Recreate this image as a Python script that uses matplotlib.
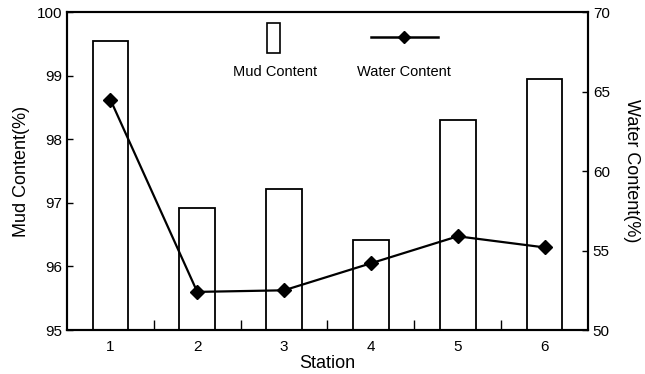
import numpy as np
import matplotlib
matplotlib.use('Agg')
import matplotlib.pyplot as plt
from matplotlib.patches import Rectangle
from matplotlib.lines import Line2D

plt.rcParams['font.family'] = ['Liberation Sans', 'DejaVu Sans']

# Station data
stations = [1, 2, 3, 4, 5, 6]
mud_content = [99.55, 96.92, 97.22, 96.42, 98.30, 98.95]
water_content = [64.5, 52.4, 52.5, 54.2, 55.9, 55.2]

fig = plt.figure(figsize=(6.45, 3.74), dpi=100)
ax = fig.add_axes([0.1039, 0.1176, 0.8077, 0.8495])

# Mud content as open bars on the left axis
ax.bar(stations, mud_content, width=0.41, bottom=0, facecolor='white',
       edgecolor='black', linewidth=1.3, zorder=2)
ax.set_ylim(95, 100)
ax.set_xlim(0.5, 6.5)
ax.set_yticks([95, 96, 97, 98, 99, 100])
ax.set_xticks(stations)
ax.set_xticks([1.5, 2.5, 3.5, 4.5, 5.5], minor=True)
ax.tick_params(axis='x', which='major', length=0, labelsize=11, pad=7)
ax.tick_params(axis='x', which='minor', direction='in', length=7, width=1)
ax.tick_params(axis='y', direction='in', length=4, width=1, labelsize=11)
ax.set_xlabel('Station', fontsize=13, labelpad=1)
ax.set_ylabel('Mud Content(%)', fontsize=13, labelpad=5)
for s in ax.spines.values():
    s.set_linewidth(1.5)

# Water content line on the right axis
ax2 = ax.twinx()
ax2.plot(stations, water_content, color='black', linewidth=1.6,
         marker='D', markersize=7, markerfacecolor='black', zorder=3)
ax2.set_ylim(50, 70)
ax2.set_yticks([50, 55, 60, 65, 70])
ax2.tick_params(axis='y', direction='in', length=4, width=1, labelsize=11)
ax2.set_ylabel('Water Content(%)', fontsize=13, rotation=270, labelpad=22)
for s in ax2.spines.values():
    s.set_linewidth(1.5)

# Legend keys placed in the upper middle of the plot
ax2.add_patch(Rectangle((0.384, 0.872), 0.025, 0.094, transform=ax2.transAxes,
                        facecolor='white', edgecolor='black', linewidth=1.2))
ax2.text(0.399, 0.812, 'Mud Content', transform=ax2.transAxes,
         ha='center', va='center', fontsize=10.5)
ax2.add_line(Line2D([0.583, 0.712], [0.922, 0.922], transform=ax2.transAxes,
                    color='black', linewidth=1.8))
ax2.add_line(Line2D([0.647], [0.922], transform=ax2.transAxes, color='black',
                    marker='D', markersize=6))
ax2.text(0.647, 0.812, 'Water Content', transform=ax2.transAxes,
         ha='center', va='center', fontsize=10.5)

fig.savefig('out.png', dpi=100)
